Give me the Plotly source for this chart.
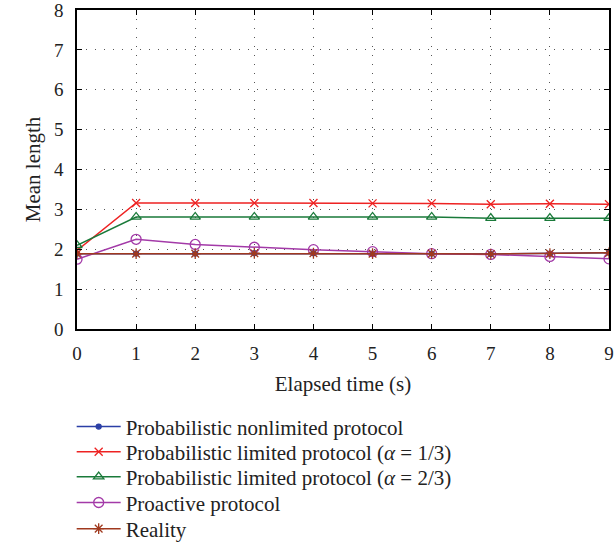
import plotly.graph_objects as go

time_s = [0, 1, 2, 3, 4, 5, 6, 7, 8, 9]
nonlimited = [1.89, 1.89, 1.89, 1.90, 1.90, 1.89, 1.89, 1.88, 1.89, 1.91]
limited_13 = [1.97, 3.16, 3.16, 3.16, 3.16, 3.15, 3.15, 3.13, 3.14, 3.13]
limited_23 = [2.10, 2.81, 2.81, 2.81, 2.81, 2.81, 2.81, 2.78, 2.78, 2.78]
proactive = [1.75, 2.25, 2.12, 2.05, 1.99, 1.94, 1.89, 1.87, 1.82, 1.76]
reality = [1.89, 1.89, 1.89, 1.90, 1.90, 1.89, 1.89, 1.88, 1.89, 1.91]

names = [
    "Probabilistic nonlimited protocol",
    "Probabilistic limited protocol (<i>α</i> = 1/3)",
    "Probabilistic limited protocol (<i>α</i> = 2/3)",
    "Proactive protocol",
    "Reality",
]
colors = ["#2b3fa6", "#ee2222", "#1a7a3a", "#a33aa8", "#a0391e"]
symbols = ["circle", "x-thin", "triangle-up-open", "circle-open", "asterisk"]
sizes = [5, 8, 9, 10, 9]
series = [nonlimited, limited_13, limited_23, proactive, reality]
legend_ids = ["legend", "legend2", "legend3", "legend4", "legend5"]
legend_y = [-0.307, -0.386, -0.464, -0.545, -0.627]

font = "Liberation Serif"
txt = "#222"
fig = go.Figure()
for nm, col, sym, sz, ys, lg in zip(names, colors, symbols, sizes, series, legend_ids):
    fig.add_trace(go.Scatter(
        x=time_s, y=ys, name=nm, mode="lines+markers", legend=lg, showlegend=True,
        line=dict(color=col, width=1.5),
        marker=dict(symbol=sym, size=sz, color=col, line=dict(color=col, width=1.3)),
    ))

axis_common = dict(
    showline=True, linecolor="black", linewidth=1.5, mirror="ticks",
    ticks="inside", ticklen=5, tickcolor="black",
    showgrid=True, gridcolor="#555", griddash="1px,8px", gridwidth=1.2,
    zeroline=False, tickfont=dict(family=font, size=19, color=txt),
    ticklabeloverflow="allow",
)
fig.update_xaxes(range=[0, 9], dtick=1, ticklabelstandoff=6,
                 title=dict(text="Elapsed time (s)", font=dict(family=font, size=21, color=txt), standoff=14),
                 **axis_common)
fig.update_yaxes(range=[0, 8], dtick=1, ticklabelstandoff=8,
                 title=dict(text="Mean length", font=dict(family=font, size=21, color=txt), standoff=8),
                 **axis_common)

layout_legends = {}
for lg, ly in zip(legend_ids, legend_y):
    layout_legends[lg] = dict(x=-0.01, y=ly, xanchor="left", yanchor="middle",
                              font=dict(family=font, size=21, color=txt),
                              itemwidth=44, bgcolor="rgba(0,0,0,0)")

fig.update_layout(
    width=615, height=546,
    margin=dict(l=77, r=6, t=10, b=217, autoexpand=False),
    showlegend=True,
    plot_bgcolor="white", paper_bgcolor="white",
    font=dict(family=font, size=19, color=txt),
    **layout_legends,
)
fig.write_html("out.html")
